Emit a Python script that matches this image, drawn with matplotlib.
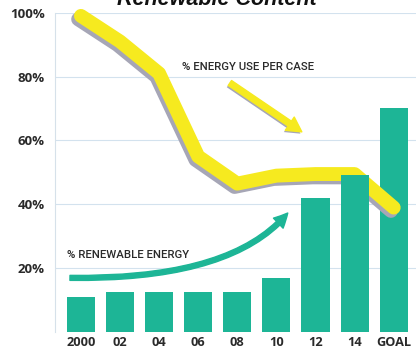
import matplotlib
matplotlib.use("Agg")
import matplotlib.pyplot as plt
import matplotlib.patheffects as pe
from matplotlib.patches import FancyArrowPatch, ArrowStyle
from matplotlib.path import Path

# Data
categories = ["2000", "02", "04", "06", "08", "10", "12", "14", "GOAL"]
renewable_pct = [11.1, 12.7, 12.7, 12.7, 12.7, 17.1, 41.9, 49.2, 70.1]
energy_use_pct = [99, 91, 81, 55, 46.5, 49, 49.5, 49.5, 39]
y_ticks = [20, 40, 60, 80, 100]

TEAL = "#1db596"
YELLOW = "#f6ea1f"
SHADOW = "#a6a6b6"
TEXT = "#2a2a2a"

fig = plt.figure(figsize=(4.16, 3.52), dpi=100)
ax = fig.add_axes([0.132, 0.0563, 0.868, 0.9076])

x = list(range(len(categories)))
bars = ax.bar(x, renewable_pct, width=0.72, color=TEAL, zorder=2)
# the 2014 bar sits in front of the energy-use line
bars[7].set_zorder(4)

shadow = [pe.SimpleLineShadow(offset=(-2.0, -2.4), shadow_color=SHADOW, alpha=1.0), pe.Normal()]
ax.plot(x, energy_use_pct, color=YELLOW, lw=10, solid_capstyle="round",
        solid_joinstyle="round", zorder=3, clip_on=False, path_effects=shadow)

ax.set_xlim(-0.665, 8.57)
ax.set_ylim(0, 100)
ax.set_yticks(y_ticks)
ax.set_yticklabels([f"{v}%" for v in y_ticks])
ax.set_xticks(x)
ax.set_xticklabels(categories)
ax.tick_params(length=0)
ax.tick_params(axis="y", pad=7.5)
ax.tick_params(axis="x", pad=3.0)
for lab in ax.get_yticklabels():
    lab.set_fontfamily("Open Sans")
    lab.set_fontweight("bold")
    lab.set_fontsize(9.5)
    lab.set_color(TEXT)
for lab in ax.get_xticklabels():
    lab.set_fontfamily("Open Sans")
    lab.set_fontweight("bold")
    lab.set_fontsize(9.2)
    lab.set_color(TEXT)

ax.grid(axis="y", color="#d3e2ee", lw=0.8, zorder=0)
ax.set_axisbelow(True)
for s in ["top", "right", "bottom"]:
    ax.spines[s].set_visible(False)
ax.spines["left"].set_color("#d6e1ea")
ax.spines["left"].set_linewidth(0.8)

ax.text(4.27, 83.0, "% ENERGY USE PER CASE", ha="center", va="center",
        fontsize=8.2, family="Roboto", fontweight="medium", color=TEXT, zorder=5)
ax.text(-0.36, 24.2, "% RENEWABLE ENERGY", ha="left", va="center",
        fontsize=8.2, family="Roboto", fontweight="medium", color=TEXT, zorder=5)

# Straight arrow under the energy-use label
yarrow = FancyArrowPatch((3.81, 78.0), (5.65, 62.7),
                         arrowstyle=ArrowStyle.Simple(head_length=10.5, head_width=11.5, tail_width=4.3),
                         mutation_scale=1, shrinkA=0, shrinkB=0, color=YELLOW, zorder=3,
                         path_effects=[pe.SimplePatchShadow(offset=(-1.0, -1.3), shadow_rgbFace=SHADOW, alpha=1.0), pe.Normal()])
ax.add_patch(yarrow)

# Curved arrow rising over the renewable bars
curve = Path([(-0.28, 17.0), (3.86, 16.3), (5.29, 37.3)],
             [Path.MOVETO, Path.CURVE3, Path.CURVE3])
garrow = FancyArrowPatch(path=curve,
                         arrowstyle=ArrowStyle.Simple(head_length=10, head_width=10, tail_width=3.6),
                         mutation_scale=1, color=TEAL, zorder=3, transform=ax.transData)
ax.add_patch(garrow)

fig.text(0.522, 0.986, "Renewable Content", ha="center", va="baseline",
         fontsize=15.5, family="Liberation Sans", fontweight="bold", style="italic", color="#111111")

fig.savefig("out.png", dpi=100)
